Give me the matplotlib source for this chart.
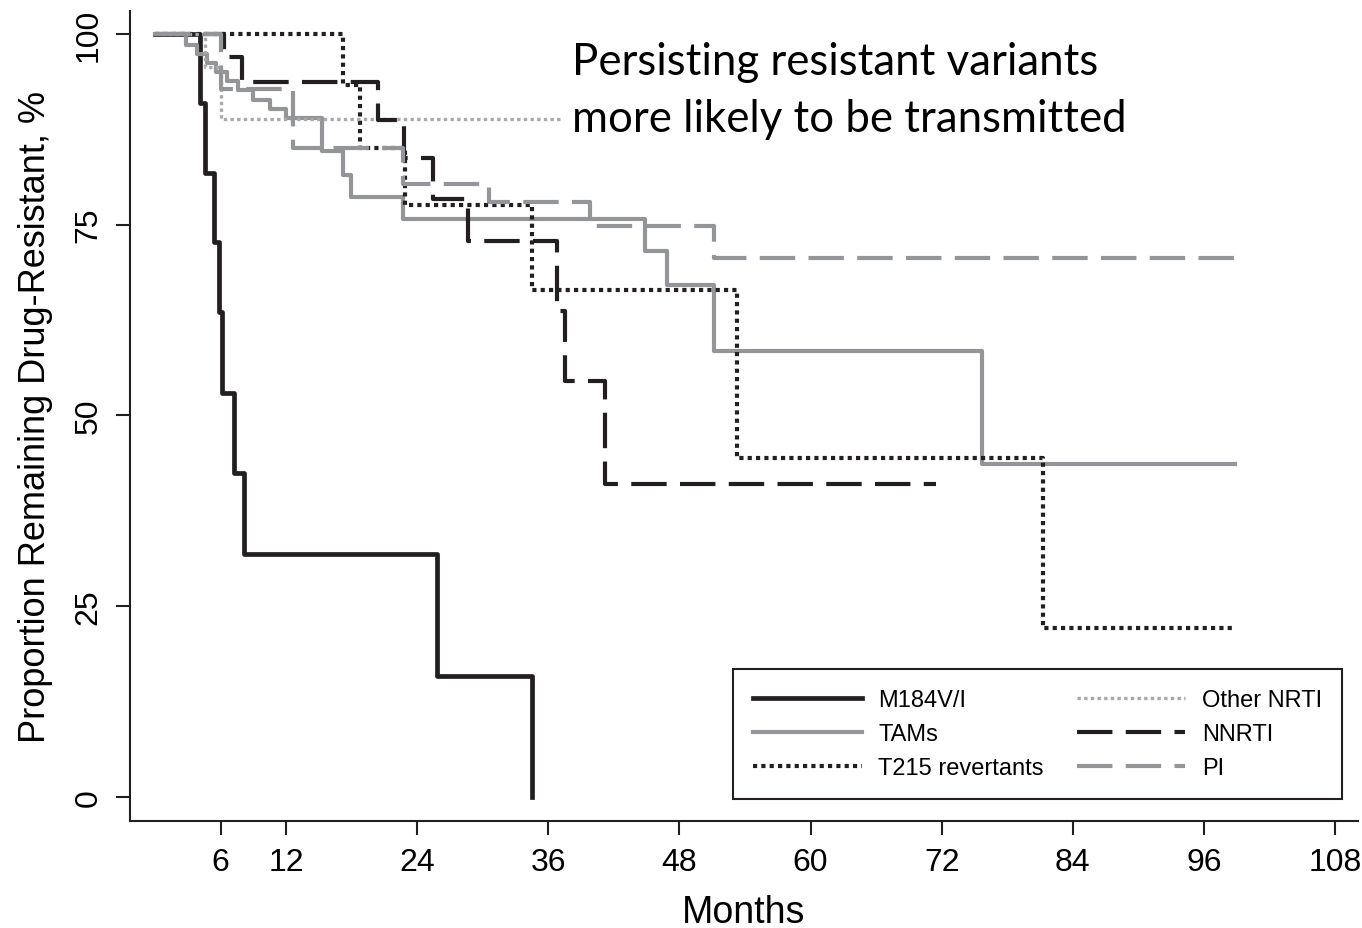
import matplotlib
matplotlib.use("Agg")
import matplotlib.pyplot as plt

plt.rcParams['font.family'] = ['Liberation Sans', 'DejaVu Sans']

# Kaplan-Meier style step data (months, % remaining resistant)
m184_t = [0, 4.1, 4.6, 5.4, 5.9, 6.1, 7.2, 8.1, 25.8, 34.5]
m184_v = [100, 90.9, 81.8, 72.7, 63.6, 53.0, 42.4, 31.8, 15.9, 0]

tams_t = [0, 2.8, 3.8, 4.8, 5.6, 6.6, 7.6, 9.0, 10.5, 12.0, 15.3, 17.2, 17.9,
          22.7, 44.8, 46.9, 51.2, 75.7, 98.8]
tams_v = [100, 98.6, 97.4, 96.2, 95.0, 93.8, 92.6, 91.4, 90.2, 89.0, 84.6, 81.5, 78.6,
          75.7, 71.5, 67.1, 58.4, 43.7, 43.7]

t215_t = [0, 17.2, 18.8, 22.9, 34.5, 53.3, 81.3, 98.8]
t215_v = [100, 93.3, 85.1, 77.6, 66.5, 44.4, 22.2, 22.2]

other_t = [0, 4.6, 6.0, 37.2]
other_v = [100, 95.7, 88.9, 88.9]

nnrti_t = [0, 6.3, 8.0, 20.4, 22.8, 25.4, 28.6, 36.8, 37.5, 41.2, 71.5]
nnrti_v = [100, 97.0, 93.7, 88.7, 83.8, 78.4, 72.9, 63.7, 54.5, 41.0, 41.0]

pi_t = [0, 6.0, 12.6, 22.7, 30.6, 39.8, 51.2, 98.8]
pi_v = [100, 92.8, 85.0, 80.3, 78.0, 74.8, 70.6, 70.6]

labels = ['M184V/I', 'TAMs', 'T215 revertants', 'Other NRTI', 'NNRTI', 'PI']
xticks = [6, 12, 24, 36, 48, 60, 72, 84, 96, 108]
yticks = [0, 25, 50, 75, 100]

black = '#231f20'
gray = '#939598'
lgray = '#a7a9ac'

fig = plt.figure(figsize=(13.62, 9.29), dpi=100)
ax = fig.add_axes([130 / 1362, 107 / 929, (1358 - 130) / 1362, (822 - 12) / 929])

lw = 3.0
ax.step(m184_t, m184_v, where='post', color=black, lw=3.4, label=labels[0])
ax.step(tams_t, tams_v, where='post', color=gray, lw=lw, label=labels[1])
ax.step(t215_t, t215_v, where='post', color=black, lw=lw, ls=(0, (1, 1)),
        dash_capstyle='butt', label=labels[2])
ax.step(other_t, other_v, where='post', color=lgray, lw=2.4, ls=(0, (1, 1)),
        dash_capstyle='butt', label=labels[3])
ax.step(nnrti_t, nnrti_v, where='post', color=black, lw=lw, ls=(0, (8.5, 3.2)),
        label=labels[4])
ax.step(pi_t, pi_v, where='post', color=gray, lw=lw, ls=(0, (8.5, 3.2)),
        label=labels[5])

ax.set_xlim(-2.29, 110.1)
ax.set_ylim(-3.15, 103.0)
ax.set_xticks(xticks)
ax.set_yticks(yticks)
ax.tick_params(axis='both', direction='out', length=10, width=1.5, color=black,
               labelsize=23, pad=9)
for lab in ax.get_yticklabels():
    lab.set_rotation(90)
    lab.set_va('center')

for s in ['top', 'right']:
    ax.spines[s].set_visible(False)
for s in ['left', 'bottom']:
    ax.spines[s].set_linewidth(1.5)
    ax.spines[s].set_color(black)

ax.set_xlabel('Months', fontsize=27, labelpad=12)
ax.set_ylabel('Proportion Remaining Drug-Resistant, %', fontsize=26, labelpad=15)

leg = ax.legend(ncol=2, loc='lower right', bbox_to_anchor=(0.987, 0.027),
                borderaxespad=0, fontsize=17, handlelength=4.6, columnspacing=1.4,
                labelspacing=0.5, handletextpad=0.7, fancybox=False, framealpha=1,
                edgecolor=black, borderpad=0.85)
leg.get_frame().set_linewidth(1.5)

fig.text(572 / 1362, 1 - 75 / 929, 'Persisting resistant variants', fontsize=31.5,
         family=['Lato', 'DejaVu Sans'], va='baseline', ha='left')
fig.text(572 / 1362, 1 - 132 / 929, 'more likely to be transmitted', fontsize=31.5,
         family=['Lato', 'DejaVu Sans'], va='baseline', ha='left')

fig.savefig('out.png', dpi=100)
